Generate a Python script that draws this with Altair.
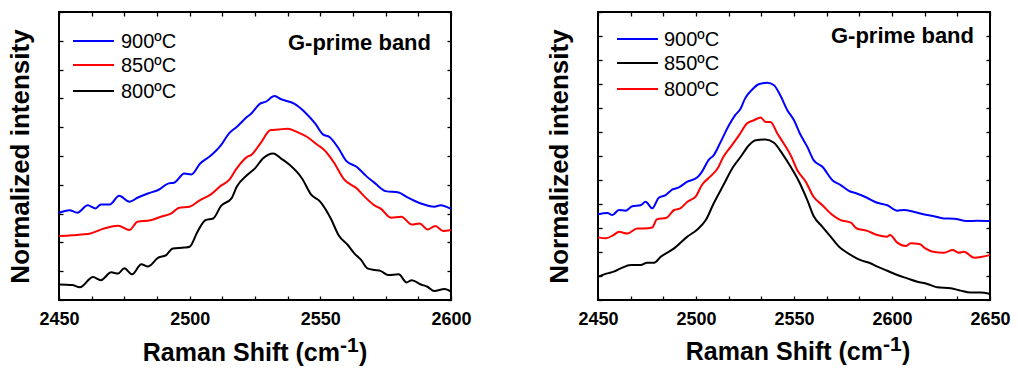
import altair as alt
import pandas as pd

FONT = "Liberation Sans"

# ---------------- Left panel data ----------------
L900_x = [2450, 2454, 2457, 2461, 2464, 2466, 2469.4, 2473, 2477, 2480, 2484, 2488, 2492, 2494, 2498, 2500.6, 2504, 2508, 2512, 2515, 2518, 2522, 2523.5, 2527, 2529, 2532.5, 2535, 2540, 2544, 2548, 2551, 2553.5, 2557, 2560, 2564, 2567.5, 2571, 2575, 2580, 2583, 2588.5, 2593.6, 2596, 2600]
L900_y = [3.03, 3.12, 3.03, 3.29, 3.18, 3.32, 3.32, 3.62, 3.41, 3.55, 3.70, 3.82, 4.05, 4.07, 4.39, 4.36, 4.74, 5.01, 5.38, 5.78, 6.01, 6.36, 6.47, 6.82, 6.88, 7.08, 6.97, 6.82, 6.53, 6.13, 5.75, 5.66, 5.26, 4.82, 4.62, 4.31, 4.05, 3.78, 3.73, 3.58, 3.35, 3.24, 3.29, 3.16]

L850_x = [2450, 2455, 2462, 2467.5, 2472.6, 2477, 2480, 2485, 2489, 2493, 2496, 2500, 2504, 2508, 2512, 2515, 2518, 2522, 2523.5, 2527, 2531, 2534, 2537.5, 2541, 2545, 2549, 2551.6, 2555, 2559, 2564, 2567, 2571, 2573, 2577, 2581, 2585, 2588, 2591, 2594, 2597, 2600]
L850_y = [2.22, 2.25, 2.31, 2.49, 2.58, 2.43, 2.72, 2.77, 2.89, 3.01, 3.20, 3.24, 3.47, 3.66, 3.97, 4.16, 4.57, 4.97, 5.03, 5.43, 5.90, 5.92, 5.95, 5.84, 5.66, 5.38, 5.20, 4.80, 4.20, 3.87, 3.58, 3.27, 3.18, 2.86, 2.89, 2.62, 2.66, 2.45, 2.57, 2.40, 2.43]

L800_x = [2450, 2455, 2458, 2463, 2466, 2470, 2472.6, 2475, 2478, 2481.5, 2484, 2488, 2491, 2493.6, 2498, 2500, 2503, 2506, 2509, 2512, 2516, 2518, 2522, 2525, 2528, 2532, 2535, 2538, 2543, 2546.5, 2550, 2554, 2557, 2560.5, 2563, 2565.6, 2568, 2571, 2573, 2576, 2580, 2583, 2585, 2588.5, 2591, 2593.6, 2597.5, 2600]
L800_y = [0.54, 0.52, 0.44, 0.80, 0.69, 0.96, 0.92, 1.10, 0.89, 1.24, 1.16, 1.47, 1.56, 1.79, 1.82, 1.85, 2.37, 2.77, 2.83, 3.27, 3.53, 3.93, 4.34, 4.57, 4.91, 5.09, 4.91, 4.71, 4.22, 3.66, 3.41, 2.83, 2.25, 1.91, 1.62, 1.39, 1.10, 1.04, 1.01, 0.87, 0.89, 0.61, 0.69, 0.54, 0.46, 0.31, 0.38, 0.29]

# ---------------- Right panel data ----------------
R900_x = [2450, 2454.8, 2457.3, 2460.7, 2464, 2467.5, 2471.8, 2474.3, 2477.7, 2481, 2484.5, 2488, 2491, 2495.6, 2500.7, 2503, 2506.6, 2509, 2512.6, 2516.8, 2520, 2522.8, 2525, 2528.7, 2532, 2536.4, 2539.8, 2543, 2546.6, 2550, 2553, 2556.8, 2560, 2564.5, 2569.6, 2573.8, 2578, 2582, 2587, 2592.5, 2597.6, 2602.7, 2606, 2611, 2616, 2621, 2626.5, 2631.6, 2638, 2643.5, 2650]
R900_y = [3.57, 3.63, 3.54, 3.75, 3.72, 3.91, 3.95, 4.09, 3.82, 4.26, 4.37, 4.61, 4.68, 4.93, 5.11, 5.34, 5.85, 6.03, 6.59, 7.28, 7.70, 7.98, 8.39, 8.77, 8.99, 9.05, 8.95, 8.53, 7.91, 7.49, 6.94, 6.38, 5.83, 5.55, 4.99, 4.79, 4.55, 4.44, 4.27, 4.05, 3.95, 3.72, 3.75, 3.68, 3.57, 3.50, 3.40, 3.39, 3.29, 3.30, 3.29]

R850_x = [2450, 2454.8, 2458, 2461.6, 2466.7, 2471.8, 2475, 2478.6, 2482, 2488.8, 2495.6, 2500.7, 2505, 2509, 2514, 2519, 2522.8, 2527, 2530.4, 2535.5, 2539.8, 2544, 2548.3, 2552.6, 2556.8, 2560, 2564.5, 2568.7, 2573, 2576.4, 2580.6, 2584, 2589, 2592.5, 2597.6, 2602.7, 2607.8, 2613, 2618, 2623, 2630, 2635, 2640, 2645, 2650]
R850_y = [0.97, 1.11, 1.18, 1.32, 1.46, 1.46, 1.55, 1.55, 1.80, 2.15, 2.64, 2.94, 3.33, 4.02, 4.79, 5.55, 5.97, 6.45, 6.66, 6.69, 6.55, 6.10, 5.55, 4.93, 4.16, 3.50, 3.05, 2.64, 2.22, 2.01, 1.80, 1.66, 1.53, 1.39, 1.22, 1.04, 0.90, 0.76, 0.67, 0.53, 0.49, 0.39, 0.31, 0.31, 0.25]

R800_x = [2450, 2454, 2458, 2460.7, 2465, 2470, 2473.5, 2477.7, 2480, 2485, 2488.8, 2492, 2495.6, 2500, 2503, 2507.5, 2511, 2514, 2517.7, 2522, 2526, 2529.6, 2533, 2535.5, 2538, 2541.5, 2545, 2548.3, 2551.7, 2556, 2560, 2564.5, 2569.6, 2573.8, 2579, 2582, 2587, 2592.5, 2597.6, 2599, 2602.7, 2607, 2609.5, 2614, 2617, 2621, 2626.5, 2631, 2634, 2636.7, 2642, 2646, 2650]
R800_y = [2.61, 2.57, 2.71, 2.84, 2.77, 2.98, 2.98, 3.02, 3.36, 3.43, 3.75, 3.82, 4.09, 4.33, 4.79, 5.16, 5.48, 5.97, 6.38, 6.87, 7.35, 7.49, 7.60, 7.42, 7.42, 6.94, 6.49, 6.03, 5.41, 4.93, 4.30, 3.95, 3.54, 3.33, 3.22, 2.98, 2.89, 2.71, 2.64, 2.71, 2.39, 2.25, 2.36, 2.33, 2.15, 2.01, 1.97, 2.08, 1.97, 2.01, 1.76, 1.80, 1.87]

# legend order / colours per panel
L_names = ["900ºC", "850ºC", "800ºC"]
L_colors = ["#0000ff", "#ff0000", "#000000"]
R_names = ["900ºC", "850ºC", "800ºC"]
R_colors = ["#0000ff", "#000000", "#ff0000"]

L_xticks = [2450 + 12.5 * i for i in range(13)]
R_xticks = [2450 + 50 / 3 * i for i in range(13)]
L_yticks = list(range(0, 11))
R_yticks = list(range(0, 13))

BAND_LABEL = "G-prime band"
YTITLE = "Normalized intensity"
XTITLE_MAIN = "Raman Shift (cm"
XTITLE_SUP = "-1"
XTITLE_END = ")"

W, H = 392, 288


def build_df(series):
    rows = []
    for name, xs, ys in series:
        for x, y in zip(xs, ys, strict=True):
            rows.append({"shift": x, "val": y, "series": name})
    return pd.DataFrame(rows)


def panel(series, names, colors, xdom, xticks, ydom, yticks, leg, band, xt):
    df = build_df(series)
    base = alt.Chart(df)
    xscale = alt.Scale(domain=xdom, nice=False, zero=False)
    yscale = alt.Scale(domain=ydom, nice=False, zero=False)
    lab_expr = "abs(datum.value % 50) < 0.01 ? format(datum.value, 'd') : ''"
    x_main = alt.X(
        "shift:Q", scale=xscale,
        axis=alt.Axis(values=xticks, labelExpr=lab_expr, offset=-4, tickSize=4,
                      tickWidth=1.3, tickColor="black", domain=False, grid=False,
                      title=None, labelPadding=10, labelFlush=False,
                      labelOverlap=False, labelFontSize=18, labelFontWeight="bold",
                      labelFont=FONT, labelColor="black"))
    y_main = alt.Y(
        "val:Q", scale=yscale,
        axis=alt.Axis(values=yticks, labels=False, offset=-4, tickSize=4,
                      tickWidth=1.3, tickColor="black", domain=False, grid=False,
                      title=YTITLE, titleFontSize=26, titleFont=FONT,
                      titleFontWeight="bold", titleColor="black", titlePadding=25))
    lines = base.mark_line(strokeWidth=2, interpolate="monotone").encode(
        x=x_main, y=y_main,
        color=alt.Color("series:N", scale=alt.Scale(domain=names, range=colors), legend=None),
    )
    ghost = base.mark_line(opacity=0).encode(
        x=alt.X("shift:Q", scale=xscale,
                axis=alt.Axis(orient="top", values=xticks, labels=False, offset=-4,
                              tickSize=4, tickWidth=1.3, tickColor="black",
                              domain=False, grid=False, title=None)),
        y=alt.Y("val:Q", scale=yscale,
                axis=alt.Axis(orient="right", values=yticks, labels=False, offset=-4,
                              tickSize=4, tickWidth=1.3, tickColor="black",
                              domain=False, grid=False, title=None)),
    )
    layers = [lines, ghost]
    lx0, lx1, tx, ys = leg
    for name, col, yy in zip(names, colors, ys):
        one = alt.Chart(pd.DataFrame({"t": [name]}))
        layers.append(one.mark_rule(strokeWidth=2, color=col).encode(
            x=alt.value(lx0), x2=alt.value(lx1), y=alt.value(yy)))
        layers.append(one.mark_text(align="left", baseline="middle", font=FONT,
                                    fontSize=20, color="black").encode(
            text="t:N", x=alt.value(tx), y=alt.value(yy + 1)))
    bx, by = band
    layers.append(alt.Chart(pd.DataFrame({"t": [BAND_LABEL]})).mark_text(
        align="right", baseline="alphabetic", font=FONT, fontSize=22,
        fontWeight="bold", color="black").encode(
        text="t:N", x=alt.value(bx), y=alt.value(by)))
    # x axis title with superscript
    xe, yb = xt
    layers.append(alt.Chart(pd.DataFrame({"t": [XTITLE_MAIN]})).mark_text(
        align="right", baseline="alphabetic", font=FONT, fontSize=25,
        fontWeight="bold", color="black").encode(
        text="t:N", x=alt.value(xe), y=alt.value(yb)))
    layers.append(alt.Chart(pd.DataFrame({"t": [XTITLE_SUP]})).mark_text(
        align="left", baseline="alphabetic", font=FONT, fontSize=21,
        fontWeight="bold", color="black").encode(
        text="t:N", x=alt.value(xe), y=alt.value(yb - 9)))
    layers.append(alt.Chart(pd.DataFrame({"t": [XTITLE_END]})).mark_text(
        align="left", baseline="alphabetic", font=FONT, fontSize=25,
        fontWeight="bold", color="black").encode(
        text="t:N", x=alt.value(xe + 19), y=alt.value(yb)))
    return alt.layer(*layers).resolve_axis(x="independent", y="independent").properties(
        width=W, height=H)


left = panel(
    [(L_names[0], L900_x, L900_y), (L_names[1], L850_x, L850_y), (L_names[2], L800_x, L800_y)],
    L_names, L_colors, [2450, 2600], L_xticks, [0, 10], L_yticks,
    (14, 55, 62, [29, 53, 79]), (372, 38), (281, 349))

right = panel(
    [(R_names[0], R900_x, R900_y), (R_names[1], R850_x, R850_y), (R_names[2], R800_x, R800_y)],
    R_names, R_colors, [2450, 2650], R_xticks, [0, 12], R_yticks,
    (19, 60, 66, [27, 51, 77]), (376, 31), (285, 348))

chart = alt.hconcat(left, right, spacing=72).resolve_scale(color="independent").configure_view(
    stroke="black", strokeWidth=2).properties(
    padding={"left": 6, "top": 10, "right": 5, "bottom": 5}, background="white")

chart.save("out.html", embed_options={"renderer": "svg", "actions": False})
